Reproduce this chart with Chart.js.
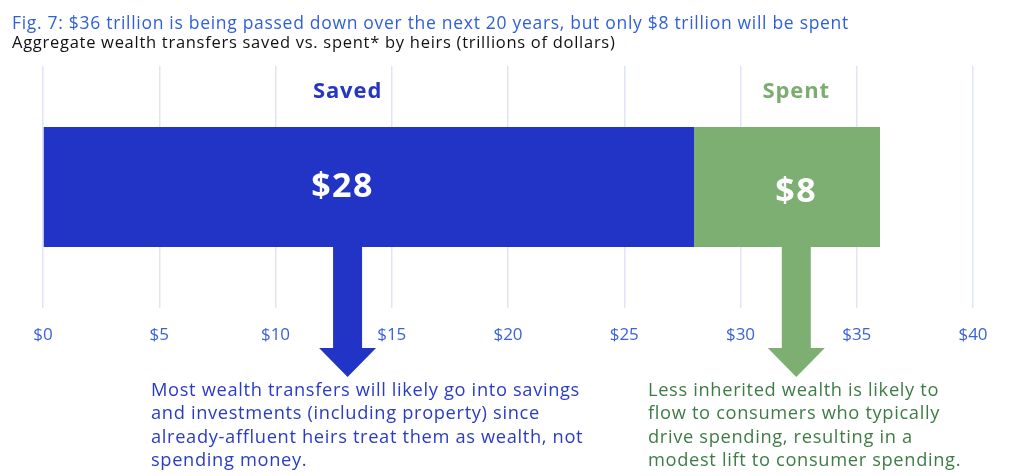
<!DOCTYPE html>
<html>
<head>
<meta charset="utf-8">
<script src="https://cdn.jsdelivr.net/npm/chart.js@4.4.0/dist/chart.umd.min.js"></script>
<style>
  body { margin: 0; background: #fff; font-family: "Open Sans", Lato, sans-serif; }
  #wrap { position: relative; width: 1024px; height: 476px; overflow: hidden; }
  canvas { position: absolute; left: 0; top: 0; }
  .txt { position: absolute; white-space: nowrap; }
  #title { left: 12px; top: 10px; font-size: 17.5px; letter-spacing: 0.7px; color: #2f5fdb; }
  #subtitle { left: 12px; top: 30px; font-size: 16.5px; letter-spacing: 0.72px; color: #111; }
  .note { font-size: 18.3px; line-height: 23.3px; letter-spacing: 0.65px; }
  #noteSaved { left: 151px; top: 377px; color: #2a3cc6; }
  #noteSpent { left: 648px; top: 377px; color: #3e7c47; }
</style>
</head>
<body>
<div id="wrap">
  <canvas id="chart" width="1024" height="476"></canvas>
  <div class="txt" id="title">Fig. 7: $36 trillion is being passed down over the next 20 years, but only $8 trillion will be spent</div>
  <div class="txt" id="subtitle">Aggregate wealth transfers saved vs. spent* by heirs (trillions of dollars)</div>
  <div class="txt note" id="noteSaved">Most wealth transfers will likely go into savings<br>and investments (including property) since<br>already-affluent heirs treat them as wealth, not<br>spending money.</div>
  <div class="txt note" id="noteSpent">Less inherited wealth is likely to<br>flow to consumers who typically<br>drive spending, resulting in a<br>modest lift to consumer spending.</div>
</div>
<script>
// data
const categories = ['Heirs'];
const seriesNames = ['Saved', 'Spent'];
const savedValues = [28];
const spentValues = [8];
const barLabels = ['$28', '$8'];
const tickMin = 0, tickMax = 40, tickStep = 5;

// where the header / value label / arrow sit for each part (in axis units)
const markerAt = [13.1, 32.4];

const blue = '#2134c6';
const green = '#7dae72';

// header, value labels and arrows under the bar
const calloutPlugin = {
  id: 'callouts',
  afterDatasetsDraw(chart) {
    const ctx = chart.ctx;
    const xs = chart.scales.x;
    const bar = chart.getDatasetMeta(0).data[0];
    const barBottom = bar.y + bar.height / 2;
    const colors = [blue, green];
    ctx.save();
    seriesNames.forEach((name, i) => {
      const cx = xs.getPixelForValue(markerAt[i]);
      ctx.textAlign = 'center';
      ctx.textBaseline = 'middle';
      // header
      ctx.fillStyle = i === 0 ? '#2536c5' : '#7aad6f';
      ctx.font = 'bold 22px "Open Sans", sans-serif';
      ctx.letterSpacing = '0.9px';
      ctx.fillText(name, cx, 92);
      // value inside bar
      ctx.fillStyle = '#fff';
      ctx.font = 'bold 34px "Open Sans", sans-serif';
      ctx.letterSpacing = '1.5px';
      ctx.fillText(barLabels[i], cx - (i === 0 ? 5 : 0), i === 0 ? 187 : 192);
      ctx.letterSpacing = '0px';
      // arrow
      ctx.fillStyle = colors[i];
      ctx.beginPath();
      ctx.moveTo(cx - 14.5, barBottom);
      ctx.lineTo(cx + 14.5, barBottom);
      ctx.lineTo(cx + 14.5, 348);
      ctx.lineTo(cx + 28.5, 348);
      ctx.lineTo(cx, 377);
      ctx.lineTo(cx - 28.5, 348);
      ctx.lineTo(cx - 14.5, 348);
      ctx.closePath();
      ctx.fill();
    });
    ctx.restore();
  }
};

new Chart(document.getElementById('chart'), {
  type: 'bar',
  data: {
    labels: categories,
    datasets: [
      { label: seriesNames[0], data: savedValues, backgroundColor: blue },
      { label: seriesNames[1], data: spentValues, backgroundColor: green }
    ]
  },
  options: {
    indexAxis: 'y',
    responsive: false,
    animation: false,
    devicePixelRatio: 1,
    categoryPercentage: 1,
    barPercentage: 0.496,
    layout: { padding: { top: 66, left: 43, right: 51, bottom: 0 } },
    plugins: { legend: { display: false }, tooltip: { enabled: false } },
    scales: {
      x: {
        stacked: true,
        min: tickMin,
        max: tickMax,
        border: { display: false },
        grid: { color: '#dfe4f8', lineWidth: 1.5, drawTicks: false },
        ticks: {
          stepSize: tickStep,
          padding: 17,
          color: '#3b62d9',
          font: { family: '"Open Sans"', size: 17 },
          callback: v => '$' + v
        },
        afterFit(scale) { scale.height = 476 - 308; }
      },
      y: { stacked: true, display: false }
    }
  },
  plugins: [calloutPlugin]
});
</script>
</body>
</html>
